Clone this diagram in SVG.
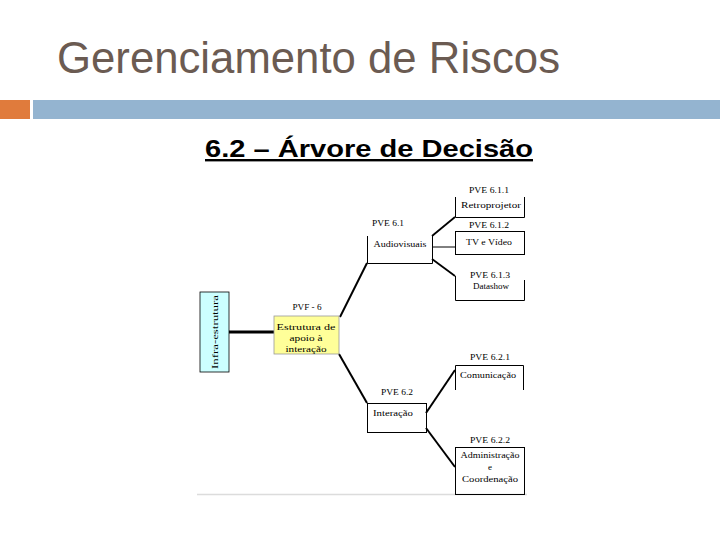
<svg xmlns="http://www.w3.org/2000/svg" width="720" height="540" viewBox="0 0 720 540">
<style>
.lbl{font-family:"Liberation Serif","Times New Roman",serif;font-size:9px;fill:#000;text-anchor:middle}
.box{fill:none;stroke:#000;stroke-width:1}
.c{stroke:#000;fill:none}
</style>
<rect width="720" height="540" fill="#fff"/>
<text x="57" y="73" font-family="Liberation Sans, Arial, sans-serif" font-size="44" fill="#6b5b52" textLength="503" lengthAdjust="spacingAndGlyphs">Gerenciamento de Riscos</text>
<rect x="0" y="100" width="30" height="19" fill="#e07b3c"/>
<rect x="33" y="100" width="687" height="19" fill="#94b4d0"/>
<text x="205" y="157" font-family="Liberation Sans, Arial, sans-serif" font-size="24" font-weight="bold" fill="#000" text-decoration="underline" textLength="328" lengthAdjust="spacingAndGlyphs">6.2 – Árvore de Decisão</text>
<line x1="197" y1="494.5" x2="527" y2="494.5" stroke="#dcdcdc" stroke-width="1.5"/>

<g id="connectors">
<line class="c" x1="229" y1="332" x2="274" y2="332" stroke-width="3"/>
<line class="c" x1="340" y1="317" x2="367" y2="263" stroke-width="2"/>
<line class="c" x1="339" y1="354" x2="367" y2="403" stroke-width="2"/>
<line class="c" x1="432" y1="236" x2="455" y2="217" stroke-width="1.8"/>
<line class="c" x1="432" y1="247" x2="455" y2="247" stroke-width="1"/>
<line class="c" x1="432" y1="259" x2="455" y2="276" stroke-width="1.8"/>
<line class="c" x1="426" y1="413" x2="455" y2="370" stroke-width="2"/>
<line class="c" x1="426" y1="428" x2="455" y2="467" stroke-width="2"/>
</g>

<g id="infra">
<rect x="200" y="292" width="29" height="80" fill="#ccffff" stroke="#000" stroke-width="0.8"/>
<text class="lbl" transform="translate(218,332) rotate(-90)" font-size="10" x="0" y="0" textLength="74" lengthAdjust="spacingAndGlyphs">Infra-estrutura</text>
</g>

<g id="pvf6">
<text class="lbl" x="307" y="310" textLength="29" lengthAdjust="spacingAndGlyphs">PVF - 6</text>
<rect x="274" y="316" width="65" height="38" fill="#ffff99" stroke="#999" stroke-width="0.8"/>
<text class="lbl" x="306" y="330" textLength="59" lengthAdjust="spacingAndGlyphs">Estrutura de</text>
<text class="lbl" x="306" y="341" textLength="33" lengthAdjust="spacingAndGlyphs">apoio à</text>
<text class="lbl" x="306" y="352" textLength="41" lengthAdjust="spacingAndGlyphs">interação</text>
</g>

<g id="pve61">
<text class="lbl" x="388" y="226" textLength="32" lengthAdjust="spacingAndGlyphs">PVE 6.1</text>
<path class="box" d="M367.5 236 V263.5 H432.5 V236"/>
<text class="lbl" x="400" y="247" textLength="53" lengthAdjust="spacingAndGlyphs">Audiovisuais</text>
</g>

<g id="pve611">
<text class="lbl" x="489" y="193" textLength="40" lengthAdjust="spacingAndGlyphs">PVE 6.1.1</text>
<path class="box" d="M455.5 197 V217.5 H524.5 V197"/>
<text class="lbl" x="491" y="208" textLength="60" lengthAdjust="spacingAndGlyphs">Retroprojetor</text>
</g>

<g id="pve612">
<text class="lbl" x="489" y="228" textLength="40" lengthAdjust="spacingAndGlyphs">PVE 6.1.2</text>
<rect class="box" x="455.5" y="231.5" width="69" height="23"/>
<text class="lbl" x="489" y="245" textLength="46" lengthAdjust="spacingAndGlyphs">TV e Vídeo</text>
</g>

<g id="pve613">
<text class="lbl" x="490" y="278" textLength="40" lengthAdjust="spacingAndGlyphs">PVE 6.1.3</text>
<path class="box" d="M455.5 276 V300.5 H524.5 V280"/>
<text class="lbl" x="491" y="289" textLength="36" lengthAdjust="spacingAndGlyphs">Datashow</text>
</g>

<g id="pve62">
<text class="lbl" x="397" y="395" textLength="32" lengthAdjust="spacingAndGlyphs">PVE 6.2</text>
<rect class="box" x="367.5" y="403.5" width="59" height="29"/>
<text class="lbl" x="393" y="416" textLength="40" lengthAdjust="spacingAndGlyphs">Interação</text>
</g>

<g id="pve621">
<text class="lbl" x="490" y="360" textLength="40" lengthAdjust="spacingAndGlyphs">PVE 6.2.1</text>
<path class="box" d="M455.5 390 V365.5 H523.5 V390"/>
<text class="lbl" x="488" y="378" textLength="56" lengthAdjust="spacingAndGlyphs">Comunicação</text>
</g>

<g id="pve622">
<text class="lbl" x="490" y="443" textLength="40" lengthAdjust="spacingAndGlyphs">PVE 6.2.2</text>
<rect class="box" x="455.5" y="447.5" width="69" height="47"/>
<text class="lbl" x="490" y="458" textLength="59" lengthAdjust="spacingAndGlyphs">Administração</text>
<text class="lbl" x="490" y="470">e</text>
<text class="lbl" x="490" y="482" textLength="56" lengthAdjust="spacingAndGlyphs">Coordenação</text>
</g>
</svg>
